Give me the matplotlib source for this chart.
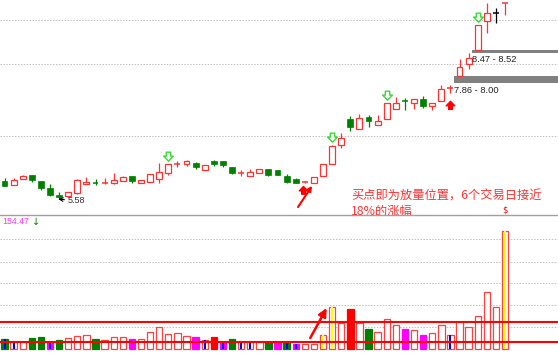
import matplotlib
matplotlib.use('Agg')
import matplotlib.pyplot as plt
import matplotlib.transforms as mtrans
from matplotlib.patches import Rectangle
from matplotlib.lines import Line2D
from matplotlib.path import Path

plt.rcParams['font.family'] = ['Noto Sans CJK SC', 'DejaVu Sans']

# K线数据
opens  = [5.94, 5.86, 5.98, 6.05, 5.94, 5.79, 5.65, 5.63, 5.69, 5.87,
          5.91, 5.88, 5.89, 5.94, 6.03, 5.89, 5.92, 5.97, 6.09, 6.27,
          6.27, 6.30, 6.15, 6.32, 6.32, 6.21, 6.09, 6.03, 6.10, 6.17,
          6.15, 6.03, 5.98, 5.90, 5.89, 6.03, 6.28, 6.65, 7.15, 6.96,
          7.19, 7.05, 7.15, 7.35, 7.53, 7.47, 7.55, 7.42, 7.51, 7.76,
          8.01, 8.24, 8.53, 9.10, 9.26, 9.45]
highs  = [5.99, 5.99, 6.05, 6.06, 5.94, 5.88, 5.71, 5.72, 5.97, 6.02,
          5.97, 5.99, 6.09, 6.03, 6.04, 5.96, 6.07, 6.30, 6.27, 6.33,
          6.34, 6.31, 6.26, 6.34, 6.32, 6.21, 6.15, 6.17, 6.17, 6.18,
          6.16, 6.07, 5.99, 5.93, 6.01, 6.27, 6.64, 6.88, 7.22, 7.26,
          7.24, 7.24, 7.48, 7.60, 7.58, 7.55, 7.61, 7.48, 7.83, 7.83,
          8.34, 8.46, 9.01, 9.44, 9.34, 9.45]
lows   = [5.83, 5.85, 5.97, 5.92, 5.76, 5.63, 5.58, 5.62, 5.68, 5.87,
          5.86, 5.88, 5.88, 5.94, 5.89, 5.89, 5.92, 5.89, 6.05, 6.22,
          6.24, 6.17, 6.15, 6.23, 6.22, 6.07, 6.03, 6.03, 6.10, 6.04,
          6.05, 5.89, 5.90, 5.90, 5.89, 6.03, 6.28, 6.58, 6.92, 6.96,
          7.01, 7.05, 7.15, 7.35, 7.34, 7.35, 7.37, 7.34, 7.51, 7.67,
          8.01, 8.14, 8.53, 8.85, 9.05, 9.21]
closes = [5.84, 5.96, 6.04, 5.96, 5.79, 5.66, 5.61, 5.71, 5.96, 5.92,
          5.89, 5.90, 5.96, 6.02, 5.94, 5.96, 6.07, 6.12, 6.27, 6.28,
          6.32, 6.21, 6.25, 6.28, 6.25, 6.10, 6.11, 6.12, 6.17, 6.05,
          6.05, 5.92, 5.90, 5.92, 6.01, 6.27, 6.63, 6.79, 7.01, 7.18,
          7.11, 7.11, 7.48, 7.48, 7.51, 7.55, 7.42, 7.48, 7.75, 7.77,
          8.19, 8.36, 9.01, 9.26, 9.26, 9.45]

# 成交量
volumes = [12.7, 8.7, 8.7, 14.0, 16.1, 8.7, 11.8, 14.0, 17.4, 18.3,
           12.7, 11.8, 16.1, 16.1, 12.7, 12.7, 22.6, 28.3, 19.2, 20.5,
           17.4, 16.1, 11.8, 15.3, 8.7, 13.1, 8.7, 8.7, 8.7, 8.7,
           7.4, 7.4, 6.5, 6.5, 6.5, 18.3, 54.5, 33.6, 52.2, 33.6,
           25.7, 22.6, 38.8, 31.3, 25.7, 24.8, 18.3, 21.3, 31.3, 18.3,
           34.9, 29.1, 43.1, 74.4, 55.2, 154.47]
vol_styles = ['gb', 'b', 'r', 'g', 'g', 'mb', 'g', 'r', 'r', 'r',
              'g', 'r', 'r', 'r', 'm', 'r', 'r', 'r', 'r', 'r',
              'r', 'm', 'b', 'R', 'mb', 'g', 'b', 'b', 'r', 'g',
              'm', 'gb', 'mb', 'r', 'r', 'y', 'y', 'r', 'R', 'r',
              'g', 'r', 'r', 'r', 'm', 'r', 'm', 'r', 'r', 'b',
              'r', 'r', 'r', 'r', 'r', 'y']

signal_days = [19, 37, 43, 53]       # 绿色空心箭头
up_day = 50                           # 红色实心箭头
buy_day = 34                          # 买点
zones = [(7.86, 8.00), (8.47, 8.52)]
zone_days = [50, 52]
low_day = 7
low_point = 5.58
price_grid = [6.83, 8.24, 9.11]
vol_grid = [29.1, 57.1, 85.8, 114.0, 143.3]
vol_levels = [35.3, 9.1]
vol_label = '154.47'
note_lines = ['买点即为放量位置，6个交易日接近', '18%的涨幅']

red = '#ff3232'
green = '#008000'
n = len(closes)
W, H = 558, 360

fig = plt.figure(figsize=(W / 100, H / 100), dpi=100)
ax1 = fig.add_axes([0, 1 - 215 / H, 1, 215 / H])
ax2 = fig.add_axes([0, 0, 1, 145 / H])
for ax in (ax1, ax2):
    ax.set_axis_off()
    ax.set_xlim(0.505, 61.82)
ax1.set_ylim(5.264, 9.507)
ax2.set_ylim(-14.37, 175.0)

fig.add_artist(Line2D([0, 1], [1 - 215 / H] * 2, color='#a0a0a0', lw=1.0))

for g in price_grid:
    ax1.axhline(g, color='#c0c0c0', lw=0.7, ls=(0, (1.5, 1.5)), zorder=0)
for g in vol_grid:
    ax2.axhline(g, color='#c0c0c0', lw=0.7, ls=(0, (1.5, 1.5)), zorder=0)

# 画K线
w = 0.65
for i in range(n):
    x = i + 1
    o, h, l, c = opens[i], highs[i], lows[i], closes[i]
    if abs(c - o) < 0.025:
        prev = closes[i - 1] if i > 0 else o
        if c > o or (c == o and c > prev):
            col = red
        elif c < o:
            col = green
        else:
            col = 'black'
        ax1.vlines(x, l, h, color=col, lw=0.9)
        ax1.hlines((o + c) / 2, x - w / 2, x + w / 2, color=col, lw=1.1)
    elif c > o:
        ax1.vlines(x, c, h, color=red, lw=0.9)
        ax1.vlines(x, l, o, color=red, lw=0.9)
        ax1.add_patch(Rectangle((x - w / 2, o), w, c - o, facecolor='white',
                                edgecolor=red, lw=0.9, zorder=3))
    else:
        ax1.vlines(x, l, h, color=green, lw=0.9)
        ax1.add_patch(Rectangle((x - w / 2, c), w, o - c, facecolor=green,
                                edgecolor=green, lw=0.5, zorder=3))

# 压力区
for (lo, hi), d in zip(zones, zone_days):
    ax1.fill_between([d + 0.38, 61.82], lo, hi, color='#808080', lw=0, zorder=2)
    ax1.text(d + 0.4, lo - 0.13, '%.2f - %.2f' % (lo, hi), fontsize=6.7,
             family=['Liberation Sans'], color='#222222', va='center', ha='left')

# 箭头标记
arrow = Path([(-0.28, 0.55), (0.28, 0.55), (0.28, 0.05), (0.62, 0.05),
              (0.0, -0.6), (-0.62, 0.05), (-0.28, 0.05), (-0.28, 0.55)],
             [Path.MOVETO] + [Path.LINETO] * 6 + [Path.CLOSEPOLY])
up_arrow = arrow.transformed(mtrans.Affine2D().scale(1, -1))
for d in signal_days:
    ax1.plot(d, highs[d - 1] + 0.16, marker=arrow, ms=7, mfc='white',
             mec='#33dd33', mew=1.0, zorder=5)
ax1.plot(up_day, lows[up_day - 1] - 0.24, marker=up_arrow, ms=6.5, mfc='red',
         mec='red', mew=0.8, zorder=5)

# 买点箭头
ax1.plot(buy_day - 0.2, lows[buy_day - 1] - 0.14, marker=up_arrow, ms=6,
         mfc='red', mec='red', zorder=5)
ax1.annotate('', xy=(buy_day + 0.8, lows[buy_day - 1] - 0.06),
             xytext=(buy_day - 0.75, lows[buy_day - 1] - 0.48),
             arrowprops=dict(arrowstyle='-|>', color='red', lw=1.5,
                             mutation_scale=7, shrinkA=0, shrinkB=0))

# 最低价
ax1.annotate('%.2f' % low_point, xy=(low_day - 0.1, low_point),
             xytext=(9, -2), textcoords='offset pixels', fontsize=6.5,
             family=['Liberation Sans'], color='#333333', va='center', ha='left',
             arrowprops=dict(arrowstyle='->', color='black', lw=0.8,
                             shrinkA=0, shrinkB=0))

ax1.text(39.1, 5.64, note_lines[0], fontsize=8.8, color='#ff3030', va='center', ha='left')
ax1.text(39.1, 5.33, note_lines[1], fontsize=8.8, color='#ff3030', va='center', ha='left')

# 成交量
bw = 0.7
colors = {'r': ('white', '#ff4040'), 'g': (green, green), 'm': ('#ff00ff', '#ff00ff'),
          'R': ('#ff0000', '#ff0000'), 'y': ('white', '#ff4040'), 'b': ('white', '#ff4040'),
          'mb': ('#ff00ff', '#ff00ff'), 'gb': (green, green)}
for i in range(n):
    x = i + 1
    st = vol_styles[i]
    fc, ec = colors[st]
    ax2.bar(x, volumes[i], width=bw, bottom=0, facecolor=fc, edgecolor=ec, lw=0.9, zorder=2)
    if st == 'y':
        ax2.bar(x, volumes[i], width=0.22, facecolor='#ffff00', lw=0, zorder=3)
    if st in ('b', 'mb', 'gb'):
        ax2.bar(x, volumes[i], width=0.22, facecolor='#0000ff', lw=0, zorder=3)

for lv in vol_levels:
    ax2.axhline(lv, color='#ff0000', lw=1.5, zorder=4)

ax2.annotate('', xy=(37 - 0.6, volumes[36] - 1),
             xytext=(34.6, 14.4),
             arrowprops=dict(arrowstyle='-|>', color='red', lw=1.8,
                             mutation_scale=12, shrinkA=0, shrinkB=0))

ax2.text(0.004, 0.955, vol_label, transform=ax2.transAxes, fontsize=6.3,
         family=['Liberation Sans'], color='#ff33ff', va='center', ha='left')
ax2.text(0.058, 0.955, '↓', transform=ax2.transAxes, fontsize=7,
         family=['DejaVu Sans'], color=green, va='center', ha='left')
ax2.text(56, 1.0, '$', transform=mtrans.blended_transform_factory(ax2.transData, ax2.transAxes),
         fontsize=6, color='red', va='bottom', ha='center', family=['DejaVu Sans'])

fig.savefig('out.png', dpi=100, facecolor='white')
